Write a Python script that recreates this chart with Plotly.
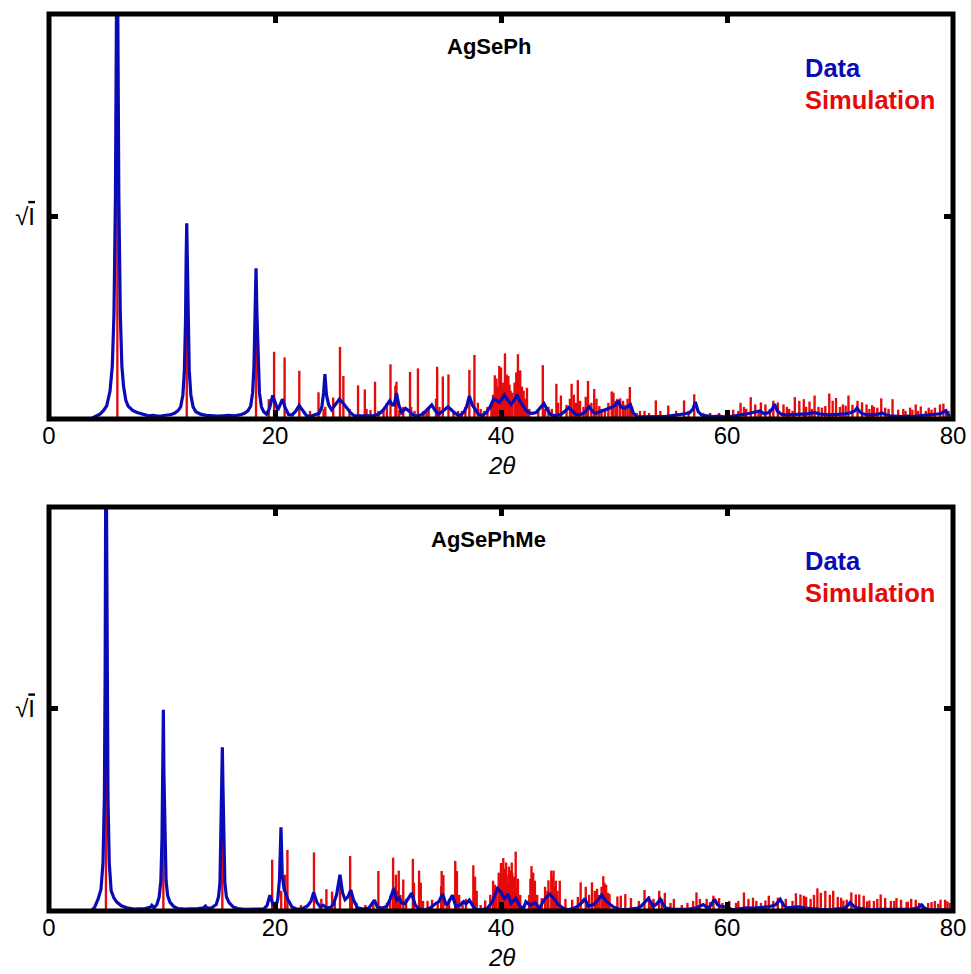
import plotly.graph_objects as go

# ---------------- AgSePh ----------------
# measured pattern (2θ, √I on a 0–100 panel scale)
agseph_two_theta = [
    3.8, 4.1, 4.5, 4.8, 5.1, 5.4, 5.6, 5.75, 5.88, 5.97, 6.03, 6.09, 6.18, 6.31, 6.45, 6.6, 6.8, 7.0,
    7.4, 7.8, 8.3, 8.8, 9.2, 9.6, 10.0, 10.4, 10.8, 11.1, 11.4, 11.65, 11.85, 11.98, 12.08, 12.14,
    12.19, 12.24, 12.31, 12.41, 12.55, 12.75, 13.0, 13.4, 13.9, 14.4, 14.9, 15.4, 15.9, 16.4, 16.9,
    17.3, 17.6, 17.85, 18.02, 18.14, 18.23, 18.32, 18.4, 18.5, 18.62, 18.8, 19.0, 19.25, 19.5, 19.8,
    20.05, 20.25, 20.45, 20.66, 20.9, 21.2, 21.5, 21.8, 22.14, 22.45, 22.8, 23.1, 23.5, 23.9, 24.15,
    24.3, 24.42, 24.55, 24.75, 25.0, 25.3, 25.7, 26.0, 26.35, 26.7, 27.0, 27.5, 28.1, 28.7, 29.2,
    29.6, 29.9, 30.15, 30.4, 30.55, 30.75, 30.95, 31.2, 31.55, 31.85, 32.2, 32.5, 32.9, 33.3, 33.6,
    33.87, 34.15, 34.45, 34.8, 35.1, 35.3, 35.55, 35.9, 36.3, 36.7, 36.95, 37.2, 37.45, 37.7, 38.0,
    38.3, 38.7, 39.0, 39.35, 39.6, 39.86, 40.05, 40.3, 40.6, 40.9, 41.15, 41.4, 41.65, 41.9, 42.2,
    42.5, 42.8, 43.1, 43.45, 43.8, 44.05, 44.35, 44.7, 45.0, 45.3, 45.6, 46.0, 46.3, 46.6, 47.0,
    47.4, 47.8, 48.1, 48.4, 48.7, 49.0, 49.4, 49.8, 50.1, 50.35, 50.6, 50.9, 51.2, 51.45, 51.7, 52.0,
    52.5, 53.0, 53.5, 54.0, 54.5, 55.0, 55.5, 55.9, 56.3, 56.7, 57.0, 57.2, 57.45, 57.8, 58.3, 58.8,
    59.3, 59.8, 60.3, 60.8, 61.3, 61.8, 62.3, 62.9, 63.3, 63.7, 64.0, 64.2, 64.45, 64.8, 65.2, 65.7,
    66.2, 66.6, 67.0, 67.4, 67.75, 68.1, 68.5, 69.0, 69.5, 70.0, 70.5, 71.0, 71.3, 71.5, 71.75, 72.0,
    72.5, 73.0, 73.4, 73.7, 74.0, 74.4, 75.0, 75.5, 76.0, 76.5, 77.0, 77.5, 78.0, 78.5, 78.9, 79.2,
    79.35, 79.55, 79.7,
]
agseph_sqrt_i = [
    0.2, 0.6, 1.2, 2.0, 3.2, 6.9, 13, 26, 55, 100, 135, 100, 55, 26, 13, 8, 4.6, 3.2,
    2.1, 1.6, 1.1, 0.8, 0.9, 0.7, 0.8, 0.9, 1.1, 1.4, 2.0, 3.0, 6, 12, 24, 40,
    48.3, 40, 24, 12, 6, 3, 1.8, 1.2, 0.9, 0.8, 0.7, 0.8, 0.9, 0.8, 1.0,
    1.4, 2.0, 3.2, 6.5, 13, 26, 37.2, 26, 13, 6.5, 3, 1.8, 1.2, 2.5, 5.8,
    3.5, 2.2, 3.5, 4.9, 2.8, 1.1, 1.0, 1.8, 3.3, 2.0, 0.8, 0.6, 0.9, 1.4, 3.0,
    6.5, 11.1, 6, 3.5, 2.3, 3.4, 4.9, 4.0, 2.8, 1.5, 0.8, 0.8, 0.7, 0.8, 1.2,
    2.3, 3.5, 4.5, 3.5, 3.5, 6.4, 3.5, 1.6, 2.6, 2.0, 1.0, 0.7, 1.0, 1.8, 2.8,
    3.5, 2.2, 1.2, 1.8, 2.6, 3.0, 2.4, 1.5, 0.8, 1.6, 3.0, 5.7, 3.5, 2.3, 1.2,
    0.8, 1.6, 2.8, 4.9, 4.6, 4.1, 4.8, 5.9, 4.6, 3.6, 4.6, 6.0, 4.5, 3.3, 2.2,
    1.5, 1.4, 1.6, 2.6, 3.8, 2.5, 1.2, 0.8, 0.9, 1.1, 1.8, 2.8, 2.0, 1.2, 1.0,
    1.6, 3.0, 1.8, 1.4, 1.7, 2.0, 2.4, 2.9, 3.4, 4.5, 3.0, 2.6, 3.0, 3.6, 1.5, 0.6,
    0.5, 0.6, 0.5, 0.6, 0.6, 0.8, 0.9, 1.0, 1.3, 1.6, 2.5, 4.2, 1.8, 0.9, 0.7, 0.6,
    0.7, 0.5, 0.6, 0.8, 1.0, 1.3, 1.6, 2.0, 1.3, 1.6, 2.4, 3.7, 2.0, 1.2, 1.0, 1.1,
    1.3, 1.2, 1.2, 1.4, 1.6, 1.3, 1.2, 1.0, 1.1, 1.2, 1.3, 1.6, 2.0, 2.7, 1.8, 1.3,
    1.0, 1.1, 1.2, 1.5, 1.1, 0.8, 0.6, 0.6, 0.7, 0.6, 0.8, 0.9, 1.0, 1.1, 1.3, 1.8,
    2.0, 1.2, 0.6,
]
# simulated reflections
agseph_sim_two_theta = [
    6.05, 12.19, 18.32, 19.45, 19.92, 20.85, 22.15, 23.1, 23.85, 24.3, 24.45, 25.15, 25.75, 26.05,
    26.6, 27.35, 27.95, 28.1, 28.45, 28.85, 29.15, 29.6, 29.9, 30.22, 30.65, 30.75, 31.0, 31.35,
    31.95, 32.05, 32.35, 32.65, 33.15, 33.4, 33.6, 34.25, 34.35, 34.55, 34.85, 35.35, 35.8, 36.2,
    36.55, 36.85, 37.2, 37.65, 37.95, 38.2, 38.5, 38.8, 39.15, 39.3, 39.45, 39.6, 39.7, 39.85,
    40.0, 40.1, 40.2, 40.35, 40.45, 40.5, 40.65, 40.75, 40.85, 41.0, 41.2, 41.35, 41.5, 41.6, 41.7,
    41.85, 42.0, 42.15, 42.3, 42.5, 43.3, 43.7, 43.9, 44.2, 44.5, 44.9, 45.05, 45.3, 45.8, 46.1,
    46.25, 46.45, 46.65, 46.8, 47.0, 47.3, 47.5, 47.7, 48.0, 48.25, 48.45, 48.7, 48.9, 49.2, 49.5,
    49.8, 49.95, 50.15, 50.3, 50.55, 50.8, 51.0, 51.2, 51.4, 51.6, 52.0, 52.3, 52.7, 53.1, 53.7,
    54.1, 54.8, 55.5, 56.2, 56.6, 57.1, 57.9, 58.5, 59.3, 59.9, 60.55, 61.0, 61.2, 61.5, 61.7,
    62.1, 62.5, 62.8, 63.0, 63.4, 63.8, 64.1, 64.5, 65.0, 65.3, 65.5, 65.8, 66.0, 66.4, 66.8, 67.0,
    67.3, 67.5, 67.75, 68.1, 68.4, 68.7, 69.05, 69.35, 69.65, 70.0, 70.25, 70.5, 70.75, 71.1,
    71.55, 71.95, 72.35, 72.6, 72.85, 73.0, 73.3, 73.65, 74.0, 74.3, 74.65, 75.15, 75.6, 75.8,
    76.2, 76.4, 76.7, 76.9, 77.15, 77.6, 77.85, 78.1, 78.4, 78.85, 79.15, 79.4, 79.6,
]
agseph_sim_sqrt_i = [
    130, 30, 25, 4.9, 16.6, 15.2, 11.9, 2, 6.6, 2.5, 3, 5.3, 17.8, 10.6,
    2.5, 8.3, 7.3, 2.5, 2.2, 9.2, 2, 2.5, 3.9, 13.5, 8.2, 9.2, 2.2, 3,
    11.6, 3, 2, 12.5, 2, 2.3, 2.5, 5, 12.9, 3, 10.5, 11, 2, 2,
    2, 3, 12.1, 15.8, 4, 2.5, 2, 3, 4, 6, 10.8, 10, 8, 13.1,
    12.7, 7.5, 9, 16.2, 6, 11, 10.6, 8.5, 7, 6.5, 9, 11.5, 16, 9.5, 12,
    8, 7, 5, 7.7, 2.5, 2.5, 13.3, 2.5, 3, 2.5, 8.7, 4, 5.8, 3.5, 5,
    8.7, 6, 4, 9.6, 4.5, 3, 5.5, 9.4, 4, 7.4, 5, 3.2, 2.5, 2.5, 4,
    6.8, 6.5, 4.5, 5, 5.1, 4.5, 3.5, 5, 7.9, 3, 1.5, 2, 2, 1.5, 4.6,
    2, 3.3, 2, 4.6, 2, 6.1, 1.5, 1.5, 1.5, 1.2, 2.3, 2, 4, 3, 2.5,
    5.4, 3.6, 2, 4.1, 3.6, 2.5, 4.5, 4.1, 3.6, 3, 2.5, 2, 5.4, 4.5, 4.9, 3,
    4.3, 2.5, 5.8, 3, 2.8, 3.2, 6.3, 4.5, 5.2, 3, 3.6, 3.3, 5.8, 3.5,
    4.5, 4.1, 3.6, 2.5, 3.4, 3, 2.8, 5.1, 2.8, 2.5, 4.9, 2.3, 2.5, 2,
    2.8, 2.3, 3.6, 2, 3.1, 2, 2.8, 2.3, 2.8, 3.6, 3.8, 2.5, 2,
]

# ---------------- AgSePhMe ----------------
agsephme_two_theta = [
    3.8, 4.05, 4.35, 4.6, 4.78, 4.9, 4.97, 5.01, 5.05, 5.09, 5.14, 5.22, 5.33, 5.5, 5.75, 6.0, 6.4,
    6.9, 7.5, 8.0, 8.5, 9.0, 9.1, 9.3, 9.55, 9.75, 9.9, 10.0, 10.07, 10.12, 10.17, 10.25, 10.36,
    10.5, 10.7, 11.0, 11.4, 12.0, 12.6, 13.2, 13.7, 13.85, 14.0, 14.4, 14.8, 15.0, 15.13, 15.22,
    15.28, 15.34, 15.4, 15.46, 15.56, 15.7, 15.95, 16.3, 16.7, 17.3, 18.0, 18.6, 19.0, 19.3, 19.55,
    19.8, 20.05, 20.25, 20.4, 20.53, 20.64, 20.8, 20.95, 21.15, 21.5, 21.9, 22.4, 22.9, 23.2, 23.42,
    23.7, 24.0, 24.27, 24.6, 24.9, 25.15, 25.45, 25.75, 25.98, 26.2, 26.45, 26.7, 26.95, 27.3, 27.8,
    28.3, 28.6, 28.8, 29.05, 29.5, 29.9, 30.2, 30.5, 30.78, 31.0, 31.2, 31.5, 31.8, 32.1, 32.4, 32.8,
    33.3, 33.7, 34.2, 34.5, 34.84, 35.15, 35.4, 35.7, 36.0, 36.4, 36.7, 36.9, 37.2, 37.7, 38.3, 38.8,
    39.2, 39.5, 39.7, 39.96, 40.3, 40.6, 40.9, 41.3, 41.7, 42.0, 42.2, 42.6, 43.0, 43.4, 43.8, 44.3,
    44.7, 45.1, 45.5, 45.9, 46.4, 46.8, 47.2, 47.43, 47.7, 48.2, 48.55, 48.9, 49.35, 49.95, 50.5,
    51.0, 51.6, 52.1, 52.4, 52.75, 53.04, 53.3, 53.5, 53.8, 54.1, 54.35, 54.6, 55.2, 55.9, 56.5,
    57.2, 57.6, 57.9, 58.3, 58.6, 58.9, 59.15, 59.4, 59.9, 60.5, 61.1, 61.7, 62.3, 62.9, 63.6, 64.3,
    64.7, 65.0, 65.3, 65.8, 66.3, 66.9, 67.5, 68.2, 69.0, 69.7, 70.4, 70.7, 70.9, 71.2, 71.6, 72.2,
    72.7, 73.5, 74.3, 75.2, 76.3, 76.9, 77.2, 77.5, 77.8, 78.6, 79.6,
]
agsephme_sqrt_i = [
    0.2, 1.0, 3.0, 5.4, 12, 28, 60, 100, 135, 100, 60, 28, 12, 5, 3.2, 2.2, 1.3,
    0.8, 0.5, 0.5, 0.6, 1.0, 1.4, 0.8, 1.6, 3.5, 7.5, 18, 34, 49.8, 34, 18, 7.5,
    3.8, 2.2, 1.2, 0.6, 0.5, 0.5, 0.6, 0.8, 1.2, 0.7, 0.8, 1.6, 3.5, 7, 18,
    30, 40.5, 30, 18, 7, 3.5, 2.0, 1.0, 0.6, 0.4, 0.4, 0.4, 0.5, 1.4, 3.9,
    1.8, 0.8, 3.0, 8, 20.7, 9, 5.5, 4.5, 2.8, 1.0, 0.5, 0.5, 1.3, 2.5, 4.6,
    2.2, 1.0, 1.4, 0.7, 0.9, 1.6, 4.0, 9.0, 4.5, 2.8, 3.5, 5.2, 2.7, 0.8, 0.5,
    0.7, 1.9, 2.7, 1.0, 0.7, 1.2, 3.0, 5.5, 2.7, 3.2, 2.0, 1.8, 3.1, 4.4, 1.5, 0.4,
    0.3, 0.7, 1.8, 2.3, 4.2, 1.5, 2.3, 3.9, 1.1, 1.5, 2.3, 1.8, 2.7, 0.4, 0.3, 0.7,
    2.1, 4.4, 5.6, 4.8, 3.1, 4.2, 1.9, 3.1, 1.1, 0.7, 2.3, 1.4, 2.1, 0.7, 2.7, 4.2,
    3.0, 1.5, 0.7, 0.3, 0.6, 1.2, 2.2, 3.1, 1.2, 1.6, 2.6, 3.9, 2.3, 1.0, 0.4,
    0.3, 0.5, 0.7, 1.2, 2.2, 3.1, 2.0, 1.2, 1.8, 2.9, 1.6, 0.7, 0.4, 0.3, 0.4,
    0.7, 1.2, 1.6, 0.7, 1.5, 2.9, 1.6, 1.2, 1.0, 0.3, 0.5, 0.8, 0.7, 0.8, 1.0, 1.5,
    2.9, 1.5, 0.8, 0.9, 1.0, 0.7, 0.5, 0.4, 0.3, 0.5, 0.7, 1.4, 2.1, 1.2, 0.7, 0.5,
    0.3, 0.4, 0.4, 0.4, 0.4, 0.8, 1.5, 0.7, 0.3, 0.3, 0.3,
]
agsephme_sim_two_theta = [
    5.04, 10.12, 15.34, 19.75, 20.55, 20.9, 21.1, 22.3, 23.45, 24.1, 24.55, 25.05, 25.3, 25.75,
    26.65, 26.8, 27.2, 28.0, 28.7, 29.15, 29.9, 30.2, 30.45, 30.55, 30.7, 30.85, 30.95, 31.1,
    31.35, 31.6, 32.2, 32.3, 32.75, 32.9, 33.1, 33.5, 33.9, 34.4, 34.7, 34.75, 34.9, 35.2, 35.4,
    35.95, 36.1, 36.3, 36.6, 36.9, 37.55, 37.7, 37.85, 38.2, 38.6, 39.05, 39.3, 39.45, 39.6, 39.8,
    39.9, 40.0, 40.1, 40.2, 40.3, 40.35, 40.45, 40.5, 40.6, 40.7, 40.85, 40.95, 41.0, 41.15, 41.3,
    41.4, 41.5, 41.7, 42.5, 42.6, 42.7, 42.85, 43.0, 43.2, 43.6, 43.9, 44.1, 44.2, 44.45, 44.55,
    44.65, 44.75, 44.85, 45.0, 45.2, 45.7, 46.3, 46.8, 47.05, 47.5, 47.8, 48.05, 48.3, 48.5, 48.7,
    48.9, 49.05, 49.15, 49.3, 49.45, 49.6, 50.3, 50.6, 51.0, 51.5, 52.2, 52.7, 53.1, 53.3, 53.5,
    54.0, 54.25, 54.5, 55.0, 55.3, 56.0, 56.5, 57.0, 57.3, 57.6, 58.2, 58.5, 58.8, 59.3, 59.6,
    60.2, 60.8, 61.0, 61.5, 61.9, 62.3, 62.6, 63.0, 63.4, 63.7, 64.1, 64.5, 64.9, 65.2, 65.8,
    66.1, 66.5, 66.8, 67.0, 67.4, 67.7, 68.0, 68.3, 68.7, 69.1, 69.4, 69.8, 70.1, 70.3, 70.6,
    71.0, 71.4, 71.7, 72.1, 72.4, 72.6, 73.0, 73.3, 73.6, 74.0, 74.5, 74.8, 75.0, 75.4, 75.9,
    76.0, 76.3, 76.7, 77.0, 77.3, 77.8, 78.1, 78.4, 78.7, 78.9, 79.3, 79.5, 79.7,
]
agsephme_sim_sqrt_i = [
    130, 25, 20, 12.7, 5, 9, 15.1, 1.5, 14.5, 3, 5.4, 4.8, 2.5, 7,
    13.6, 5, 2, 1.5, 2, 9.9, 2, 3.8, 13.2, 6, 9, 5, 10, 4,
    7.8, 3, 12.9, 7, 10, 7, 2.5, 2.5, 2.8, 2, 6.2, 9.9, 8.9, 2, 3,
    12.4, 9.9, 4, 2.5, 3, 11.3, 8.5, 5, 1.5, 2.6, 4, 7.5, 6.5, 6, 9.5,
    8, 11.9, 9, 13.1, 8, 10.5, 12, 9, 7, 11, 10, 12, 9.5, 8.5, 14.7,
    6, 8, 4, 4, 8, 11.1, 9.5, 7.5, 4, 3.2, 6, 5, 7.6, 10, 8.5,
    10, 6, 7.5, 5, 7.5, 3, 2.8, 3.5, 7.1, 6, 4, 7.1, 5, 5.5, 4,
    6, 8.6, 7, 6.5, 4.5, 4.2, 3.6, 3.8, 4.2, 3.2, 2.5, 5.2, 3.7, 2.5, 3,
    5, 3, 4.5, 2, 3, 1.5, 2, 2.5, 4.6, 3, 3, 2.2, 3.8, 3.2, 2,
    2.5, 2, 2.5, 4.6, 3, 3.3, 2.5, 2, 2.6, 3.8, 2.5, 3.3, 2.3, 3, 2.5,
    4.4, 4.1, 3.8, 3.5, 3, 4, 5.6, 4.5, 5, 4, 5, 3.5, 3.3, 2.6, 2.8,
    4.6, 4.1, 4.1, 3.8, 2.4, 2.6, 2.5, 3, 4.1, 3.2, 2.5, 2.5, 3.2, 2.8, 2.2,
    2.3, 3, 2.8, 2, 1.8, 2, 2.2, 2.5, 1.8, 2.8, 2.8, 2.4, 2,
]

panel_titles = ["AgSePh", "AgSePhMe"]
x_ticks = [0, 20, 40, 60, 80]

BLUE = "#0a0ab6"
RED = "#e50b0b"
FONT = "Arial, Liberation Sans, sans-serif"

fig = go.Figure()

panels = [
    ("x", "y", agseph_two_theta, agseph_sqrt_i, agseph_sim_two_theta, agseph_sim_sqrt_i),
    ("x2", "y2", agsephme_two_theta, agsephme_sqrt_i, agsephme_sim_two_theta, agsephme_sim_sqrt_i),
]
for xa, ya, dx, dy, sx, sy in panels:
    # simulated sticks drawn as thin bars, measured trace on top
    fig.add_trace(go.Bar(
        x=sx, y=sy, width=0.21, marker=dict(color=RED, line=dict(width=0)),
        xaxis=xa, yaxis=ya, showlegend=False, hoverinfo="skip",
    ))
    fig.add_trace(go.Scatter(
        x=dx, y=dy, mode="lines", line=dict(color=BLUE, width=3.2),
        xaxis=xa, yaxis=ya, showlegend=False, hoverinfo="skip",
    ))

x_axis = dict(
    range=[0, 80], tickvals=x_ticks, ticks="inside", ticklen=9, tickwidth=5,
    tickcolor="black", mirror="ticks", showline=False, showgrid=False, zeroline=False,
    automargin=False, tickfont=dict(family=FONT, size=24, color="black"),
)
y_axis = dict(
    range=[0, 100], tickvals=[50],
    ticktext=["\u221a<span style='text-decoration:overline'>I</span>"],
    ticks="inside", ticklen=9, tickwidth=5, tickcolor="black", mirror="ticks",
    showline=False, showgrid=False, zeroline=False, automargin=False,
    ticklabelstandoff=13,
    tickfont=dict(family=FONT, size=24, color="black"),
)

fig.update_layout(
    width=971, height=974,
    margin=dict(l=49, r=18, t=14, b=63, autoexpand=False),
    paper_bgcolor="white", plot_bgcolor="white",
    barmode="overlay", showlegend=False,
    xaxis=dict(x_axis, domain=[0, 1], anchor="y"),
    yaxis=dict(y_axis, domain=[0.5485, 1], anchor="x"),
    xaxis2=dict(x_axis, domain=[0, 1], anchor="y2"),
    yaxis2=dict(y_axis, domain=[0, 0.4504], anchor="x2"),
)

annotations = []
shapes = []
for i, (xa, ya) in enumerate([("x", "y"), ("x2", "y2")]):
    # heavy box around each panel
    shapes.append(dict(
        type="rect", xref=f"{xa} domain", yref=f"{ya} domain",
        x0=0, x1=1, y0=0, y1=1, line=dict(color="black", width=5), layer="above",
    ))
    annotations.append(dict(
        x=38.9, y=92, xref=xa, yref=ya, text=f"<b>{panel_titles[i]}</b>",
        showarrow=False, xanchor="center", yanchor="middle",
        font=dict(family=FONT, size=22, color="black"),
    ))
    annotations.append(dict(
        x=66.7, y=86.6, xref=xa, yref=ya, text="<b>Data</b>",
        showarrow=False, xanchor="left", yanchor="middle",
        font=dict(family=FONT, size=25.5, color=BLUE),
    ))
    annotations.append(dict(
        x=66.7, y=78.7, xref=xa, yref=ya, text="<b>Simulation</b>",
        showarrow=False, xanchor="left", yanchor="middle",
        font=dict(family=FONT, size=25.5, color=RED),
    ))
    annotations.append(dict(
        x=0.5, y=-0.114, xref=f"{xa} domain", yref=f"{ya} domain", text="<i>2\u03b8</i>",
        showarrow=False, xanchor="center", yanchor="middle",
        font=dict(family=FONT, size=24, color="black"),
    ))

fig.update_layout(annotations=annotations, shapes=shapes)

fig.write_html("out.html")
